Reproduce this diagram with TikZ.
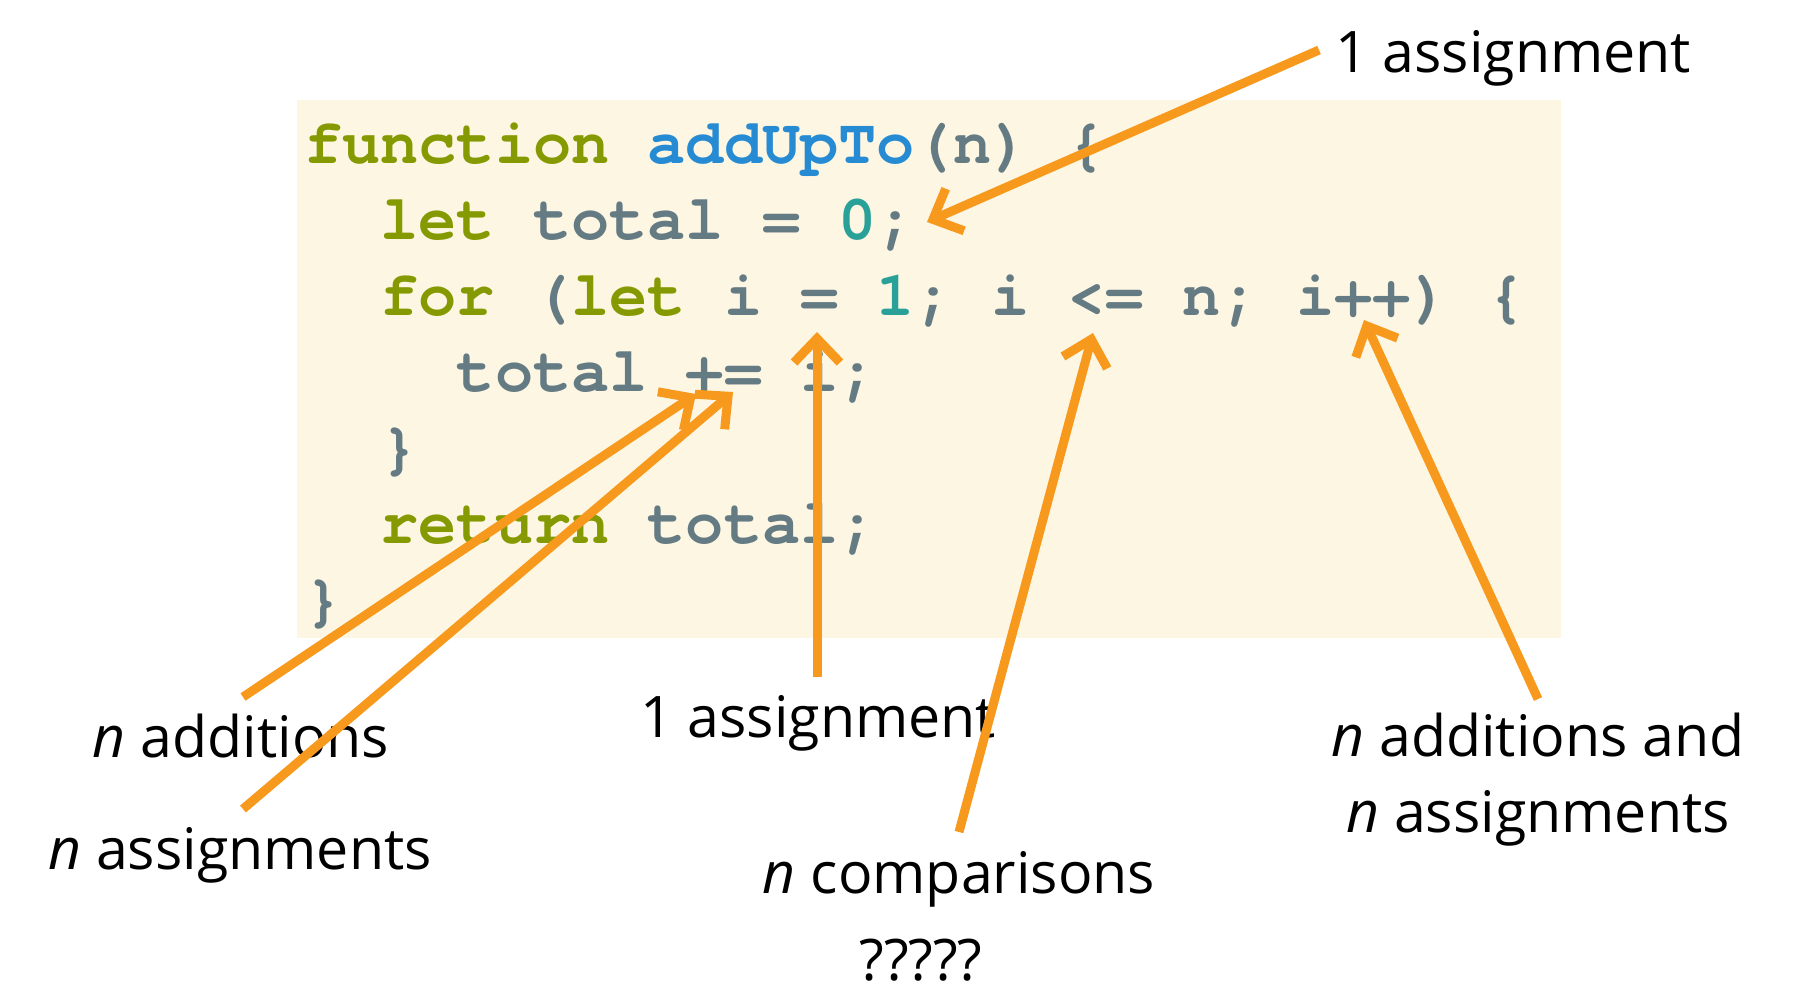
\documentclass[tikz,border=0pt]{standalone}
\usepackage{fontspec}
\setmainfont{Open Sans}
\setmonofont{texgyrecursor}[Extension=.otf, UprightFont=*-regular, BoldFont=*-bold]
\usetikzlibrary{arrows.meta}
\definecolor{codebg}{HTML}{FDF6E3}
\definecolor{codegray}{HTML}{657B83}
\definecolor{kwgreen}{HTML}{859900}
\definecolor{fnblue}{HTML}{268BD2}
\definecolor{numteal}{HTML}{2AA198}
\definecolor{noteorange}{HTML}{F7991D}
\newcommand{\kwd}[1]{\textcolor{kwgreen}{#1}}
\newcommand{\fname}[1]{\textcolor{fnblue}{#1}}
\newcommand{\numlit}[1]{\textcolor{numteal}{#1}}
\tikzset{
  code/.style={anchor=base west, inner sep=0pt, text=codegray, font=\ttfamily\bfseries\fontsize{36.2}{43.4}\selectfont},
  lbl/.style={anchor=base, inner sep=0pt, font=\fontsize{32.6}{42.7}\selectfont},
  note/.style={draw=noteorange, line width=0.18cm, -{Straight Barb[length=0.48cm,width=0.92cm]}}
}
\begin{document}
\begin{tikzpicture}[x=0.02cm,y=-0.02cm]
        \useasboundingbox (0,0) rectangle (1818,998);
        \fill[codebg] (297,100) rectangle (1561,638);

        \node[code] (line1) at (304,163) {\kwd{function} \fname{addUpTo}(n) \{};
        \node[code] (line2) at (380.3,239) {\kwd{let} total = \numlit{0};};
        \node[code] (line3) at (380.3,315) {\kwd{for} (\kwd{let} i = \numlit{1}; i <= n; i++) \{};
        \node[code] (line4) at (456.6,391) {total += i;};
        \node[code] (line5) at (380.3,467) {\}};
        \node[code] (line6) at (380.3,543) {\kwd{return} total;};
        \node[code] (line7) at (304,619) {\}};

        \node[lbl] (topLbl) at (1513,72) {1 assignment};
        \node[lbl] (addLbl) at (241,757) {\textit{n} additions};
        \node[lbl] (asgLbl) at (240,869) {\textit{n} assignments};
        \node[lbl] (oneLbl) at (818,737) {1 assignment};
        \node[lbl] (cmpLbl) at (959,893) {\textit{n} comparisons};
        \node[lbl] (qLbl) at (921,980) {?????};
        \node[lbl, align=center] (incLbl) at (1538,832) {\textit{n} additions and\\\textit{n} assignments};

        \coordinate (topTail) at (1319,50);  \coordinate (topTip) at (927,222);
        \coordinate (addTail) at (243,697);  \coordinate (addTip) at (696,394);
        \coordinate (asgTail) at (243,809);  \coordinate (asgTip) at (733,392);
        \coordinate (oneTail) at (817,677);  \coordinate (oneTip) at (817,332);
        \coordinate (cmpTail) at (959,832);  \coordinate (cmpTip) at (1093,333);
        \coordinate (incTail) at (1538,699); \coordinate (incTip) at (1364,320);

        \draw[note] (topTail) -- (topTip);
        \draw[note] (addTail) -- (addTip);
        \draw[note] (asgTail) -- (asgTip);
        \draw[note] (oneTail) -- (oneTip);
        \draw[note] (cmpTail) -- (cmpTip);
        \draw[note] (incTail) -- (incTip);
    \end{tikzpicture}
\end{document}
